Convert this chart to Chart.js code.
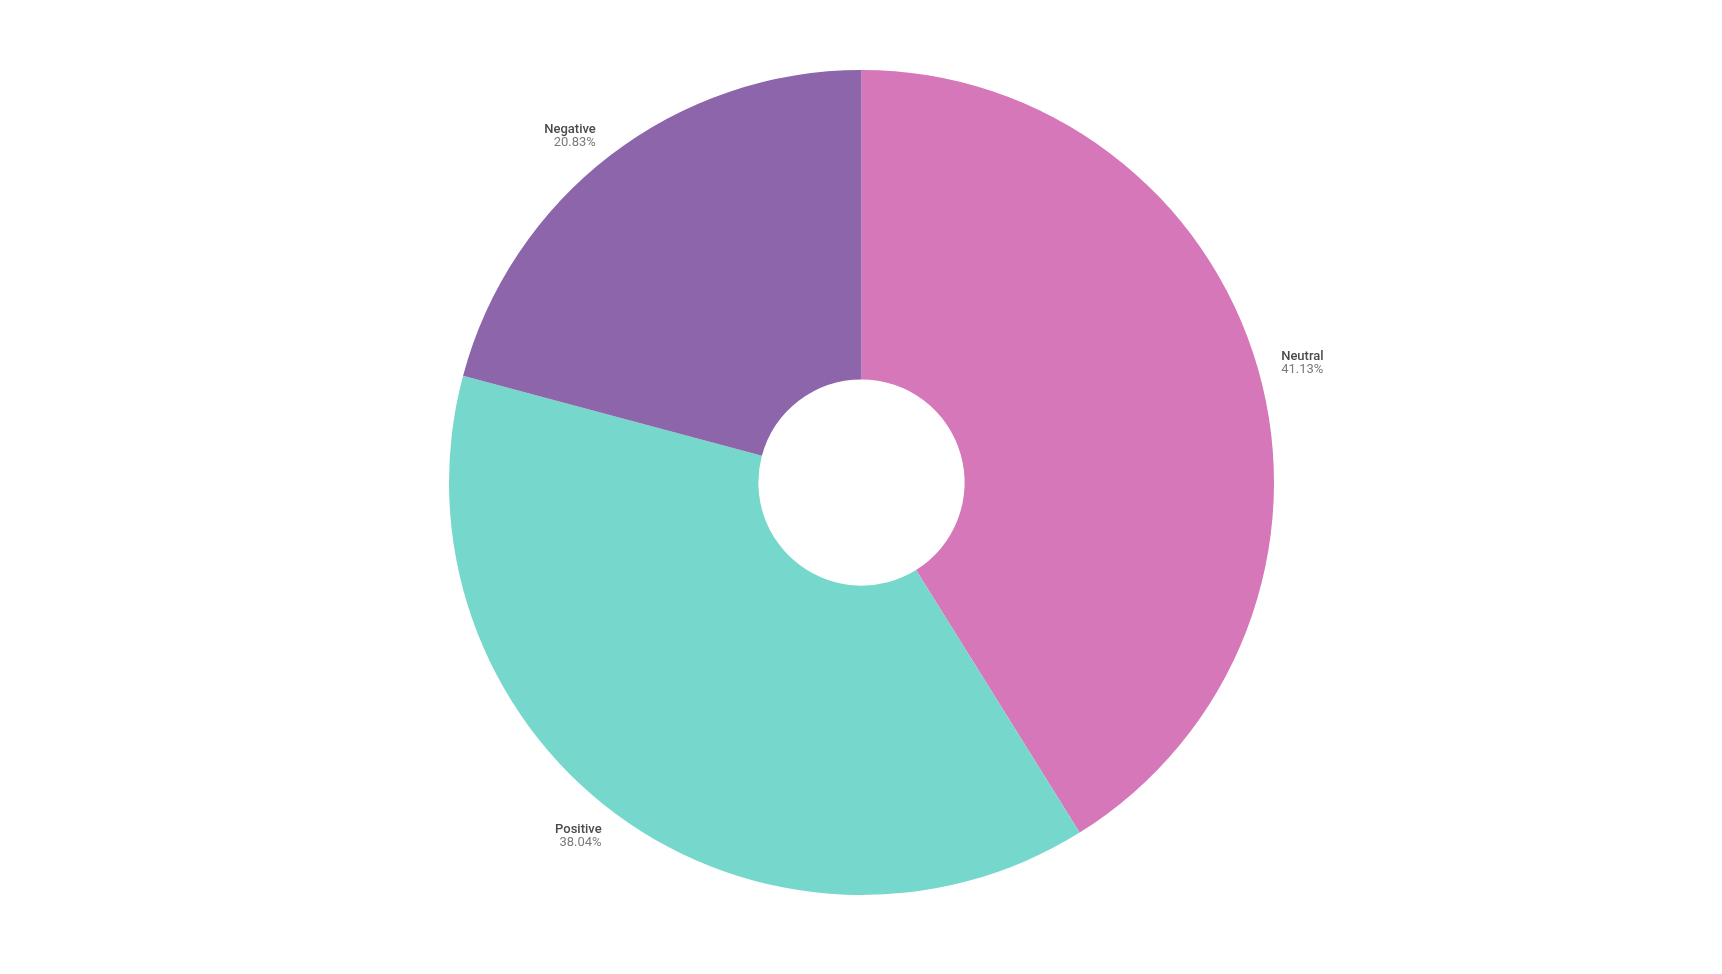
<!DOCTYPE html>
<html>
<head>
<meta charset="utf-8">
<script src="https://cdn.jsdelivr.net/npm/chart.js@4"></script>
<style>
  html, body { margin: 0; padding: 0; background: #fff; }
  #wrap { width: 1722px; height: 974px; }
</style>
</head>
<body>
<div id="wrap"><canvas id="sentimentChart"></canvas></div>
<script>
// Sentiment shares (percent)
const labels = ['Neutral', 'Positive', 'Negative'];
const values = [41.13, 38.04, 20.83];
const colors = ['#D577B9', '#76D8CC', '#8D65AA'];

// Outside labels: name on first line, percent below
const outsideLabels = {
    id: 'outsideLabels',
    afterDatasetsDraw(chart) {
        const ctx = chart.ctx;
        const meta = chart.getDatasetMeta(0);
        const total = values.reduce((a, b) => a + b, 0);
        meta.data.forEach((arc, i) => {
            const p = arc.getProps(['x', 'y', 'startAngle', 'endAngle', 'outerRadius'], true);
            const mid = (p.startAngle + p.endAngle) / 2;
            const r = p.outerRadius + 24;
            const cos = Math.cos(mid);
            const sin = Math.sin(mid);
            const x = p.x + cos * r;
            const y = p.y + sin * r + (sin > 0.5 ? 3 : 0);
            ctx.save();
            ctx.textAlign = cos >= 0 ? 'left' : 'right';
            ctx.textBaseline = 'middle';
            ctx.font = '500 13px Roboto';
            ctx.fillStyle = '#4a4a4a';
            ctx.fillText(labels[i], x, y - 6);
            ctx.font = '13px Roboto';
            ctx.fillStyle = '#7a7a7a';
            ctx.fillText((values[i] / total * 100).toFixed(2) + '%', x, y + 7);
            ctx.restore();
        });
    }
};

const ctx = document.getElementById('sentimentChart').getContext('2d');
new Chart(ctx, {
    type: 'doughnut',
    data: {
        labels: labels,
        datasets: [{
            data: values,
            backgroundColor: colors,
            borderWidth: 0
        }]
    },
    options: {
        responsive: true,
        maintainAspectRatio: false,
        animation: false,
        cutout: '25%',
        layout: { padding: { top: 70, bottom: 79, left: 1, right: 0 } },
        plugins: {
            legend: { display: false },
            tooltip: { enabled: false }
        }
    },
    plugins: [outsideLabels]
});
</script>
</body>
</html>
